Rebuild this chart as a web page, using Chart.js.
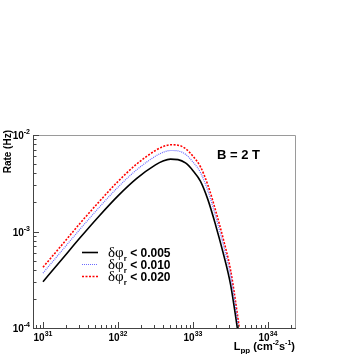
<!DOCTYPE html>
<html>
<head>
<meta charset="utf-8">
<script src="https://cdn.jsdelivr.net/npm/chart.js@4.4.0/dist/chart.umd.min.js"></script>
<style>
html, body { margin: 0; padding: 0; background: #fff; }
canvas { display: block; }
</style>
</head>
<body>
<canvas id="rateChart" width="354" height="354"></canvas>
<script>
// Rate vs luminosity for three delta-phi cuts, B = 2 T

const luminosity = [1e31, 1.78e31, 3.16e31, 5.62e31, 1e32, 1.78e32, 3.16e32, 3.98e32, 5.01e32, 6.31e32,
                    7.94e32, 1e33, 1.26e33, 1.58e33, 2.0e33, 2.51e33, 3.16e33, 3.98e33, 4.47e33];
const rateCut005 = [3.02e-4, 5.13e-4, 8.71e-4, 1.45e-3, 2.34e-3, 3.55e-3, 4.90e-3, 5.37e-3, 5.62e-3, 5.56e-3,
                    5.13e-3, 4.27e-3, 3.31e-3, 2.14e-3, 1.17e-3, 6.10e-4, 2.85e-4, 8.9e-5, 4.5e-5];
const rateCut010 = [3.71e-4, 6.31e-4, 1.07e-3, 1.78e-3, 2.88e-3, 4.37e-3, 6.03e-3, 6.61e-3, 6.91e-3, 6.84e-3,
                    6.31e-3, 5.25e-3, 4.07e-3, 2.63e-3, 1.44e-3, 7.50e-4, 3.50e-4, 1.09e-4, 5.5e-5];
const rateCut020 = [4.26e-4, 7.23e-4, 1.23e-3, 2.04e-3, 3.30e-3, 5.01e-3, 6.91e-3, 7.57e-3, 7.92e-3, 7.84e-3,
                    7.23e-3, 6.02e-3, 4.67e-3, 3.02e-3, 1.65e-3, 8.60e-4, 4.02e-4, 1.25e-4, 6.3e-5];
const cutLabels = ['0.005', '0.010', '0.020'];
const xTickExponents = [31, 32, 33, 34];
const yTickExponents = [-4, -3, -2];

const SANS = '"Liberation Sans", Arial, sans-serif';
const SERIF = '"Liberation Serif", "DejaVu Serif", serif';

function toPoints(values) {
    return luminosity.map((l, i) => ({ x: l, y: values[i] }));
}

const seriesStyle = [
    { data: rateCut005, color: '#000000', width: 1.6, dash: [] },
    { data: rateCut010, color: '#6b6bff', width: 1.2, dash: [1, 1] },
    { data: rateCut020, color: '#ff0000', width: 1.6, dash: [2, 1.5] }
];

// draw a run of text pieces (with sub/superscripts) starting at x
function drawPieces(ctx, pieces, x, y, align) {
    let total = 0;
    pieces.forEach(p => { ctx.font = p.font; total += ctx.measureText(p.t).width; });
    let cx = x;
    if (align === 'center') cx = x - total / 2;
    if (align === 'right') cx = x - total;
    ctx.textAlign = 'left';
    ctx.textBaseline = 'alphabetic';
    pieces.forEach(p => {
        ctx.font = p.font;
        ctx.fillText(p.t, cx, y + (p.dy || 0));
        cx += ctx.measureText(p.t).width;
    });
}

function powerLabel(exp) {
    const e = exp < 0 ? '-' + Math.abs(exp) : String(exp);
    return [
        { t: '10', font: 'bold 10px ' + SANS },
        { t: e, font: 'bold 7px ' + SANS, dy: -5 }
    ];
}

const rootFrame = {
    id: 'rootFrame',
    afterDatasetsDraw(chart) {
        const { ctx, chartArea: a, scales: { x, y } } = chart;
        ctx.save();

        // frame
        ctx.lineWidth = 1;
        ctx.strokeStyle = '#9a9a9a';
        ctx.beginPath();
        ctx.moveTo(a.left, a.top + 0.5);
        ctx.lineTo(a.right + 0.5, a.top + 0.5);
        ctx.lineTo(a.right + 0.5, a.bottom);
        ctx.stroke();
        ctx.strokeStyle = '#444';
        ctx.beginPath();
        ctx.moveTo(a.left + 0.5, a.top);
        ctx.lineTo(a.left + 0.5, a.bottom + 0.5);
        ctx.lineTo(a.right + 1, a.bottom + 0.5);
        ctx.stroke();

        // ticks, pointing inward
        ctx.beginPath();
        for (let d = 30; d <= 34; d++) {
            for (let k = 1; k <= 9; k++) {
                const v = k * Math.pow(10, d);
                if (v < x.min || v > x.max) continue;
                const px = Math.round(x.getPixelForValue(v)) + 0.5;
                const len = k === 1 ? 6 : 3;
                ctx.moveTo(px, a.bottom);
                ctx.lineTo(px, a.bottom - len);
            }
        }
        for (let d = -5; d <= -2; d++) {
            for (let k = 1; k <= 9; k++) {
                const v = k * Math.pow(10, d);
                if (v < y.min || v > y.max) continue;
                const py = Math.round(y.getPixelForValue(v)) + 0.5;
                const len = k === 1 ? 6 : 3.5;
                ctx.moveTo(a.left, py);
                ctx.lineTo(a.left + len, py);
            }
        }
        ctx.stroke();

        // tick labels
        ctx.fillStyle = '#000';
        xTickExponents.forEach(e => {
            const px = x.getPixelForValue(Math.pow(10, e));
            drawPieces(ctx, powerLabel(e), px, a.bottom + 13, 'center');
        });
        yTickExponents.forEach(e => {
            const py = y.getPixelForValue(Math.pow(10, e));
            drawPieces(ctx, powerLabel(e), a.left - 3, py + 4, 'right');
        });

        // axis titles
        drawPieces(ctx, [
            { t: 'L', font: 'bold 11px ' + SANS },
            { t: 'pp', font: 'bold 8px ' + SANS, dy: 3 },
            { t: ' (cm', font: 'bold 11px ' + SANS },
            { t: '-2', font: 'bold 7px ' + SANS, dy: -5 },
            { t: 's', font: 'bold 11px ' + SANS },
            { t: '-1', font: 'bold 7px ' + SANS, dy: -5 },
            { t: ')', font: 'bold 11px ' + SANS }
        ], a.right, 350, 'right');

        ctx.save();
        ctx.translate(11, a.top - 5);
        ctx.rotate(-Math.PI / 2);
        drawPieces(ctx, [{ t: 'Rate (Hz)', font: 'bold 10px ' + SANS }], 0, 0, 'right');
        ctx.restore();

        // B field label
        drawPieces(ctx, [{ t: 'B = 2 T', font: 'bold 13px ' + SANS }], 217, 159, 'left');

        // legend
        const rows = [252, 264, 276];
        seriesStyle.forEach((s, i) => {
            const ly = rows[i] + 0.5;
            ctx.strokeStyle = s.color;
            ctx.lineWidth = s.width;
            ctx.setLineDash(s.dash);
            ctx.beginPath();
            ctx.moveTo(82, ly);
            ctx.lineTo(98, ly);
            ctx.stroke();
            ctx.setLineDash([]);
            ctx.fillStyle = '#000';
            drawPieces(ctx, [
                { t: '\u03b4\u03c6', font: '15px ' + SERIF },
                { t: 'r', font: 'bold 8px ' + SANS, dy: 4 },
                { t: ' < ' + cutLabels[i], font: 'bold 12px ' + SANS }
            ], 108, rows[i] + 5, 'left');
        });

        ctx.restore();
    }
};

new Chart(document.getElementById('rateChart').getContext('2d'), {
    type: 'line',
    data: {
        datasets: seriesStyle.map((s, i) => ({
            label: cutLabels[i],
            data: toPoints(s.data),
            borderColor: s.color,
            borderWidth: s.width,
            borderDash: s.dash,
            pointRadius: 0,
            fill: false,
            cubicInterpolationMode: 'monotone'
        }))
    },
    options: {
        responsive: false,
        animation: false,
        layout: { padding: { left: 33, top: 135, right: 59, bottom: 26 } },
        plugins: { legend: { display: false }, tooltip: { enabled: false } },
        scales: {
            x: { type: 'logarithmic', min: 7.36e30, max: 2.29e34, display: false },
            y: { type: 'logarithmic', min: 1e-4, max: 1e-2, display: false }
        }
    },
    plugins: [rootFrame]
});
</script>
</body>
</html>
